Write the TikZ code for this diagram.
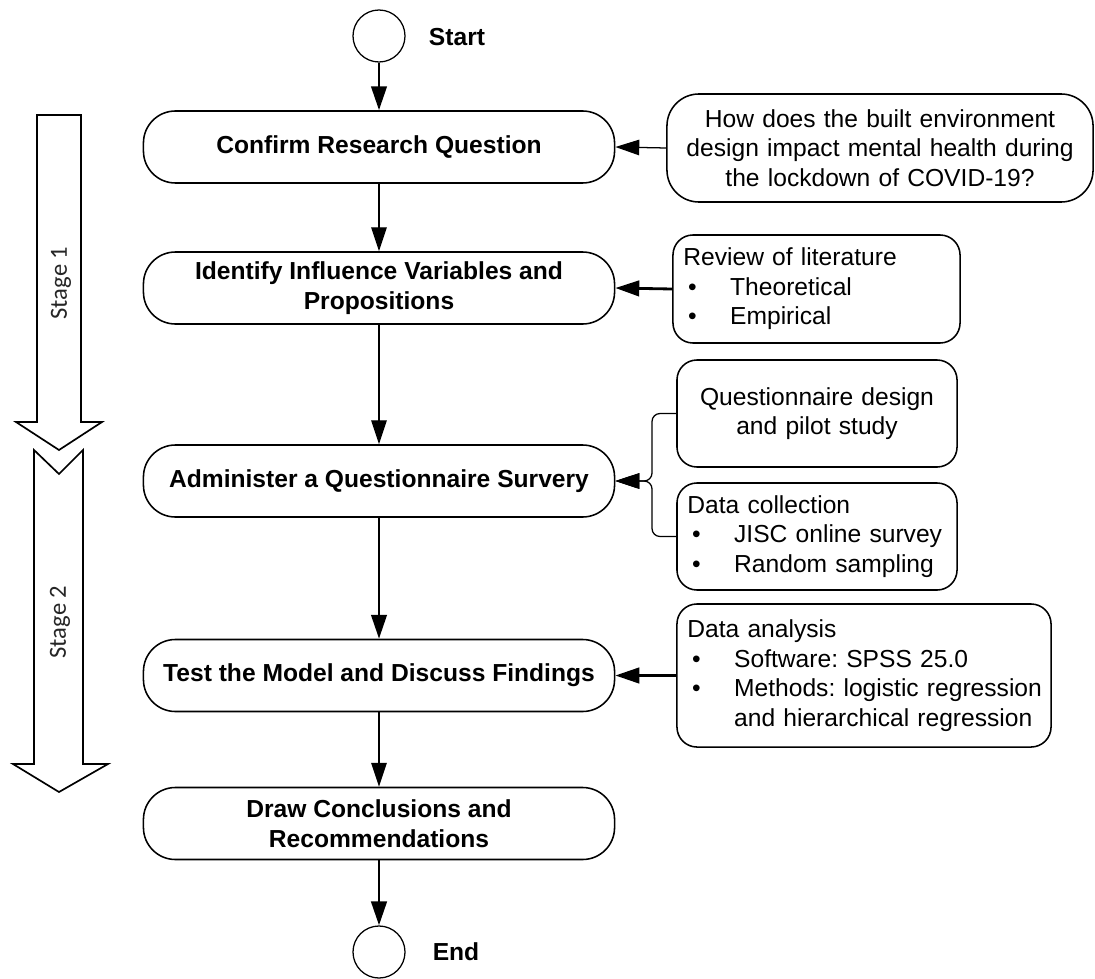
\documentclass[tikz,border=0pt]{standalone}
\usepackage{fontspec}
\setmainfont{Liberation Sans}
\newfontfamily\stagefont{Carlito}
\usetikzlibrary{arrows.meta}

\newcommand{\bul}{\makebox[1.17cm][l]{\hspace{0.12cm}\textbullet}}
\frenchspacing

\begin{document}
\begin{tikzpicture}[x=0.025cm, y=-0.025cm,
  every node/.style={font=\fontsize{17.5}{21}\selectfont},
  stepbox/.style={draw, line width=1.1pt, rounded corners=0.8cm, minimum width=11.775cm, minimum height=1.8cm, align=center, font=\fontsize{17.5}{21}\selectfont\bfseries},
  endpoint/.style={draw, circle, line width=0.9pt, minimum size=1.3cm, inner sep=0pt},
  boldlabel/.style={font=\fontsize{17.5}{21}\selectfont\bfseries},
  note/.style={draw, line width=1.1pt, rounded corners=0.5cm, inner sep=0.26cm, align=left},
  stagearrow/.style={draw, fill=white, line width=1.2pt, line join=miter},
  stagelabel/.style={rotate=90, text=black!85, font=\fontsize{17.5}{21}\selectfont\stagefont},
  thinflow/.style={-{Triangle[length=17pt,width=11pt]}, line width=0.9pt},
  thickflow/.style={-{Triangle[length=17pt,width=11pt]}, line width=2pt}]

\useasboundingbox  (0,0) rectangle (1095,978);

% Stage arrows
\draw  [stagearrow]  (37,115) -- (81,115) -- (81,422) -- (102,422) -- (59,450) -- (16,422) -- (37,422) -- cycle;
\draw  [stagearrow]  (34,450) -- (59,474) -- (83,450) -- (83,764) -- (108,764) -- (59,792) -- (13,764) -- (34,764) -- cycle;
\node  [stagelabel]  (stage1)  at  (61,283) {Stage 1};
\node  [stagelabel]  (stage2)  at  (60,622) {Stage 2};

% Main flow
\node  [endpoint]  (start)  at  (379,36) {};
\node  [boldlabel]  (startlbl)  at  (457,37) {Start};
\node  [stepbox]  (confirm)  at  (379,147) {Confirm Research Question};
\node  [stepbox]  (identify)  at  (379,288) {Identify Influence Variables and\\Propositions};
\node  [stepbox]  (admin)  at  (379,481) {Administer a Questionnaire Survery};
\node  [stepbox]  (test)  at  (379,675.5) {Test the Model and Discuss Findings};
\node  [stepbox]  (conclude)  at  (379,823.5) {Draw Conclusions and\\Recommendations};
\node  [endpoint]  (end)  at  (379,952) {};
\node  [boldlabel]  (endlbl)  at  (456,952) {End};

% Side boxes
\node  [note, align=center, rounded corners=0.8cm, text width=10.13cm, minimum height=2.7cm]  (question)  at  (880,148)
  {How does the built environment\\design impact mental health during\\the lockdown of COVID-19?};
\node  [note, text width=6.655cm, minimum height=2.7cm]  (review)  at  (816.5,289)
  {Review of literature\\\bul Theoretical\\\bul Empirical};
\node  [note, align=center, text width=6.48cm, minimum height=2.675cm]  (qdesign)  at  (817,413.5)
  {Questionnaire design\\and pilot study};
\node  [note, text width=6.48cm, minimum height=2.675cm]  (dcoll)  at  (817,536.5)
  {Data collection\\\bul JISC online survey\\\bul Random sampling};
\node  [note, text width=8.83cm, minimum height=3.575cm]  (analysis)  at  (864,675.5)
  {Data analysis\\\bul Software: SPSS 25.0\\\mbox{\bul Methods: logistic regression}\\\hspace*{1.17cm}and hierarchical regression};

% Connectors
\draw  [thickflow]  (start) -- (confirm);
\draw  [thinflow]  (confirm) -- (identify);
\draw  [thinflow]  (identify) -- (admin);
\draw  [thickflow]  (admin) -- (test);
\draw  [thinflow]  (test) -- (conclude);
\draw  [thickflow]  (conclude) -- (end);

\draw  [thinflow]  (question.west) -- (confirm.east);
\draw  [thickflow]  (review.west) -- (identify.east);
\coordinate  (bend)  at  (652,481);
\draw  [thinflow, rounded corners=0.2cm]  (qdesign.west) -| (bend) -- (admin.east);
\draw  [thinflow, rounded corners=0.2cm]  (dcoll.west) -| (bend) -- (admin.east);
\draw  [thickflow]  (analysis.west) -- (test.east);

\end{tikzpicture}
\end{document}
